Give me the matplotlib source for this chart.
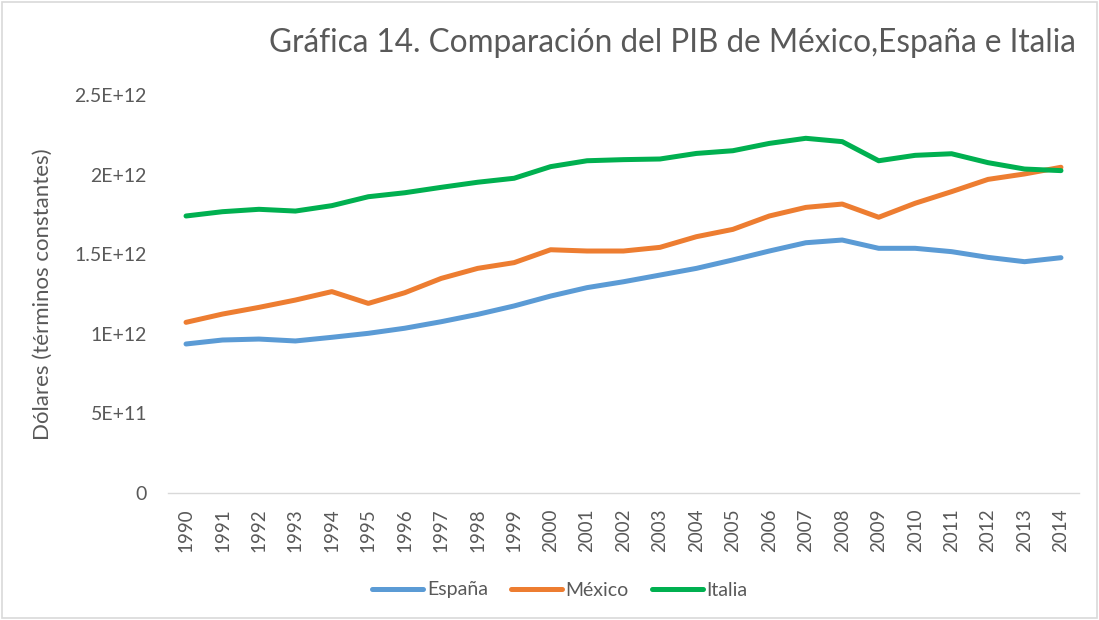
import matplotlib
matplotlib.use("Agg")
import matplotlib.pyplot as plt
from matplotlib.patches import Rectangle
from matplotlib.ticker import FixedLocator

plt.rcParams['font.family'] = ['Lato', 'DejaVu Sans']

years = list(range(1990, 2015))
espana = [0.936e12, 0.961e12, 0.967e12, 0.955e12, 0.978e12, 1.003e12, 1.035e12, 1.076e12,
          1.122e12, 1.175e12, 1.237e12, 1.290e12, 1.327e12, 1.369e12, 1.411e12, 1.464e12,
          1.520e12, 1.572e12, 1.589e12, 1.537e12, 1.537e12, 1.516e12, 1.480e12, 1.453e12,
          1.478e12]
mexico = [1.072e12, 1.124e12, 1.166e12, 1.212e12, 1.265e12, 1.191e12, 1.258e12, 1.348e12,
          1.411e12, 1.447e12, 1.528e12, 1.520e12, 1.520e12, 1.543e12, 1.610e12, 1.656e12,
          1.740e12, 1.794e12, 1.815e12, 1.732e12, 1.820e12, 1.893e12, 1.970e12, 2.004e12,
          2.046e12]
italia = [1.740e12, 1.767e12, 1.782e12, 1.771e12, 1.805e12, 1.861e12, 1.886e12, 1.920e12,
          1.952e12, 1.977e12, 2.050e12, 2.087e12, 2.094e12, 2.098e12, 2.133e12, 2.150e12,
          2.196e12, 2.228e12, 2.207e12, 2.087e12, 2.121e12, 2.131e12, 2.075e12, 2.035e12,
          2.025e12]
y_ticks = [0, 5e11, 1e12, 1.5e12, 2e12, 2.5e12]
y_labels = ['0', '5E+11', '1E+12', '1.5E+12', '2E+12', '2.5E+12']

series = [("España", espana, "#5B9BD5"), ("México", mexico, "#ED7D31"), ("Italia", italia, "#00B050")]

W, H = 1099, 620
fig = plt.figure(figsize=(W / 100, H / 100), dpi=100)
ax = fig.add_axes([167.8 / W, (H - 493) / H, (1079.2 - 167.8) / W, (493 - 95) / H])

x = list(range(len(years)))
for name, vals, col in series:
    ax.plot(x, vals, color=col, lw=3.6, label=name, solid_capstyle='round', solid_joinstyle='round')

ax.set_xlim(-0.5, len(years) - 0.5)
ax.set_ylim(0, 2.5e12)
ax.yaxis.set_major_locator(FixedLocator(y_ticks))
ax.set_yticklabels(y_labels)
ax.set_xticks(x)
ax.set_xticklabels([str(yv) for yv in years], rotation=90)
for s in ['top', 'right', 'left']:
    ax.spines[s].set_visible(False)
ax.spines['bottom'].set_color('#d9d9d9')
ax.spines['bottom'].set_linewidth(1.0)
ax.tick_params(axis='both', length=0, colors='#595959')
ax.tick_params(axis='y', pad=15, labelsize=14)
ax.tick_params(axis='x', pad=11, labelsize=13.5)

fig.text(43 / W, 1 - 294 / H, "Dólares (términos constantes)", rotation=90, ha='center', va='center',
         fontsize=16, color='#595959')
fig.text(672 / W, 1 - 43 / H, "Gráfica 14. Comparación del PIB de México,España e Italia",
         ha='center', va='center', fontsize=22.7, color='#595959')

leg = fig.legend(loc='center', bbox_to_anchor=(560 / W, 1 - 590 / H), ncol=3, frameon=False,
                 fontsize=14, handlelength=2.6, handletextpad=0.2, columnspacing=1.2)
for t in leg.get_texts():
    t.set_color('#595959')

fig.patches.append(Rectangle((2 / W, 2 / H), (W - 4) / W, (H - 4) / H, transform=fig.transFigure,
                             fill=False, edgecolor='#d9d9d9', lw=1.2))

fig.savefig("out.png", dpi=100, facecolor='white')
